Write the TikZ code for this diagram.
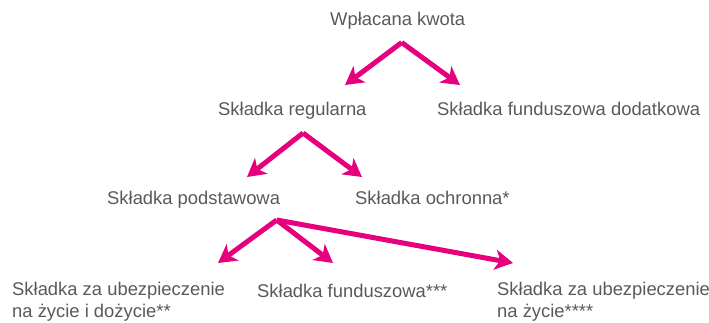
\documentclass[tikz,border=0pt]{standalone}
\usepackage{fontspec}
\setmainfont{Liberation Sans}
\usepackage{xcolor}
\usetikzlibrary{arrows.meta}
\definecolor{labelgray}{RGB}{88,89,91}
\definecolor{flowpink}{RGB}{230,0,126}

\begin{document}
\begin{tikzpicture}[x=1pt, y=-1pt,
    lbl/.style={anchor=base west, inner sep=0pt, text=labelgray, align=left,
        font=\fontsize{18.4}{21.5}\selectfont},
    flow/.style={draw=flowpink, line width=5pt, line join=miter,
        -{Stealth[length=18pt, width=20pt, inset=5pt]}}]
    \useasboundingbox (0,0) rectangle (709,322);
    \node[lbl] (kwota) at (330,25.5) {Wpłacana kwota};
    \node[lbl] (regularna) at (218,115) {Składka regularna};
    \node[lbl] (dodatkowa) at (437,115) {Składka funduszowa dodatkowa};
    \node[lbl] (podstawowa) at (107,204) {Składka podstawowa};
    \node[lbl] (ochronna) at (355,204) {Składka ochronna*};
    \node[lbl, anchor=north west] (dozycie) at (12,282) {Składka za ubezpieczenie\\na życie i dożycie**};
    \node[lbl] (funduszowa) at (257,297) {Składka funduszowa***};
    \node[lbl, anchor=north west] (zycie) at (497,282) {Składka za ubezpieczenie\\na życie****};
    \coordinate (kwota-split) at (401.7,42.5);
    \coordinate (regularna-split) at (303,133);
    \coordinate (podstawowa-split) at (276.7,220);
    \coordinate (regularna-in) at (345,85);
    \coordinate (dodatkowa-in) at (460,85);
    \coordinate (podstawowa-in) at (247,177);
    \coordinate (ochronna-in) at (362,177);
    \coordinate (dozycie-in) at (218,263);
    \coordinate (funduszowa-in) at (333,263);
    \coordinate (zycie-in) at (513,263);
    \draw[flow] (kwota-split) -- (regularna-in);
    \draw[flow] (kwota-split) -- (dodatkowa-in);
    \draw[flow] (regularna-split) -- (podstawowa-in);
    \draw[flow] (regularna-split) -- (ochronna-in);
    \draw[flow] (podstawowa-split) -- (dozycie-in);
    \draw[flow] (podstawowa-split) -- (funduszowa-in);
    \draw[flow] (podstawowa-split) -- (zycie-in);
\end{tikzpicture}
\end{document}
